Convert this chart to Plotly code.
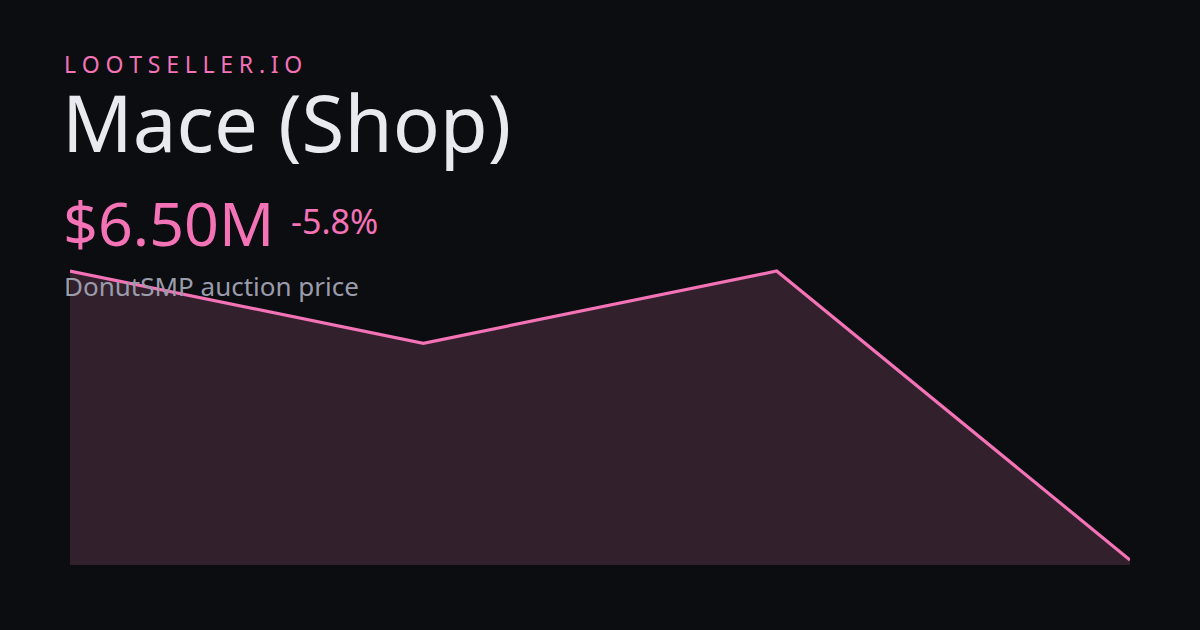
import plotly.graph_objects as go

# Data
periods = [0, 1, 2, 3]
prices_m = [6.90, 6.80, 6.90, 6.50]
brand = "\u2005".join("LOOTSELLER.IO")
title = "Mace (Shop)"
price_label = "$6.50M"
change_label = "-5.8%"
subtitle = "DonutSMP auction price"

BG = "#0c0d10"
PINK = "#f472b6"
FILL = "#33202d"
WHITE = "#e9eaef"
GRAY = "#9a9cab"
FONT = "Noto Sans"

W, H = 1200, 630
ML, MR, MT, MB = 70, 70, 200, 65
PW, PH = W - ML - MR, H - MT - MB

fig = go.Figure()
fig.add_trace(go.Scatter(
    x=periods, y=prices_m, mode="lines",
    line=dict(color=PINK, width=3.2),
    fill="tozeroy", fillcolor=FILL,
    hoverinfo="skip", showlegend=False,
))

def ann(text, x, y, size, color, yanchor="top"):
    fig.add_annotation(text=text, x=(x - ML) / PW, y=(H - MB - y) / PH,
                       xref="paper", yref="paper",
                       xanchor="left", yanchor=yanchor, showarrow=False,
                       font=dict(family=FONT, size=size, color=color))

fig.update_layout(
    width=W, height=H,
    paper_bgcolor=BG, plot_bgcolor=BG,
    margin=dict(l=ML, r=MR, t=MT, b=MB),
    xaxis=dict(range=[0, 3], visible=False, fixedrange=True),
    yaxis=dict(range=[6.4931, 6.9983], visible=False, fixedrange=True),
)

ann(brand, 62, 46, 23, PINK)
ann(title, 60, 67, 78, WHITE)
ann(price_label, 61, 179, 61, PINK)
ann(change_label, 289, 196, 34, PINK)
ann(subtitle, 62, 266, 26, GRAY)

fig.write_html("out.html", config={"displayModeBar": False},
               post_script="document.body.style.margin='0';document.body.style.background='#0c0d10';")
